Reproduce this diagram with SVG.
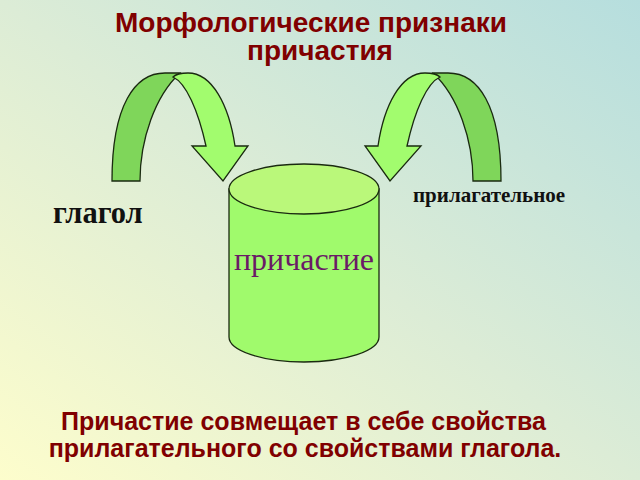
<svg xmlns="http://www.w3.org/2000/svg" width="640" height="480" viewBox="0 0 640 480">
<defs>
<linearGradient id="bg" x1="0" y1="1" x2="1" y2="0">
<stop offset="0" stop-color="#fdfdcc"/>
<stop offset="0.5" stop-color="#dcecd6"/>
<stop offset="1" stop-color="#b6dede"/>
</linearGradient>
<style>
.dark{fill:#7fd65a;stroke:#1a2a10;stroke-width:1.3}
.light{fill:#a2fc6e;stroke:#1a2a10;stroke-width:1.3}
.cyl{fill:#a0fa6c;stroke:#1a2a10;stroke-width:1.3}
.cyltop{fill:#baf87a;stroke:#1a2a10;stroke-width:1.3}
.title{font-family:"Liberation Sans",Arial,sans-serif;font-weight:bold;fill:#800000;text-anchor:middle}
.lbl{font-family:"Liberation Serif","Times New Roman",serif;font-weight:bold;fill:#111}
</style>
</defs>
<rect width="640" height="480" fill="url(#bg)"/>
<g id="title">
<text class="title" x="311" y="32" font-size="28">Морфологические признаки</text>
<text class="title" x="320" y="60" font-size="28">причастия</text>
</g>
<g id="connectors">
<g id="arrow-left">
<path class="dark" d="M112,181 C112,105 135,73 165,73 L180,73 C155,96 140,140 140,181 Z"/>
<path class="light" d="M173,77 C176,74 180,73 188,73 C212,73 229,105 235,146 L248,146 L223,181 L192,146 L206,146 C198,110 186,83 173,77 Z"/>
</g>
<g id="arrow-right" transform="translate(613,0) scale(-1,1)">
<path class="dark" d="M112,181 C112,105 135,73 165,73 L180,73 C155,96 140,140 140,181 Z"/>
<path class="light" d="M173,77 C176,74 180,73 188,73 C212,73 229,105 235,146 L248,146 L223,181 L192,146 L206,146 C198,110 186,83 173,77 Z"/>
</g>
</g>
<g id="node-prichastie">
<path class="cyl" d="M229,189 L229,337 A75,25 0 0 0 379,337 L379,189 Z"/>
<ellipse class="cyltop" cx="304" cy="189" rx="75" ry="25"/>
<text x="304" y="270" font-family="Liberation Serif,'Times New Roman',serif" font-size="32" fill="#6a1a66" text-anchor="middle">причастие</text>
</g>
<g id="node-glagol">
<text class="lbl" x="53" y="223" font-size="30.5">глагол</text>
</g>
<g id="node-prilagatelnoe">
<text class="lbl" x="413" y="202" font-size="21">прилагательное</text>
</g>
<g id="caption">
<text class="title" x="303.5" y="430" font-size="25">Причастие совмещает в себе свойства</text>
<text class="title" x="305" y="457" font-size="25">прилагательного со свойствами глагола.</text>
</g>
</svg>
